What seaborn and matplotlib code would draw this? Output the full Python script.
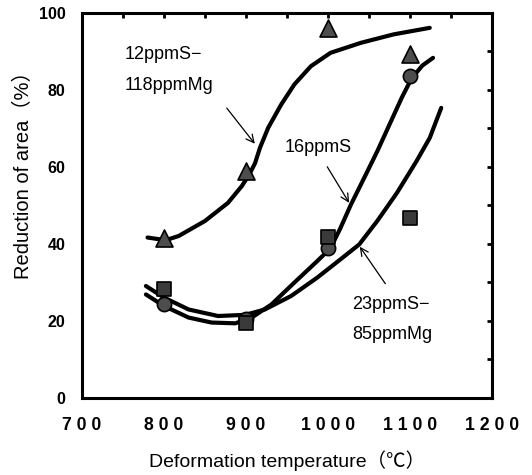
import matplotlib
matplotlib.use("Agg")
import matplotlib.pyplot as plt
import seaborn as sns
import pandas as pd
from matplotlib.ticker import MultipleLocator

# Measured reduction of area at each deformation temperature
temps = [800, 900, 1000, 1100]
ra_12S_118Mg = [41.6, 59.0, 96.1, 89.2]
ra_16S = [24.2, 20.5, 38.8, 83.5]
ra_23S_85Mg = [28.1, 19.5, 41.7, 46.6]

# Hand-fitted trend curves
curve_12S_118Mg_t = [780, 802, 818, 850, 878, 895, 904, 911, 917, 927, 943, 959, 979, 1003, 1040, 1080, 1124]
curve_12S_118Mg_v = [41.6, 40.9, 42.0, 45.9, 50.6, 55.0, 58.0, 60.9, 64.9, 70.1, 76.2, 81.4, 86.1, 89.6, 92.2, 94.4, 96.1]
curve_16S_t = [778, 800, 830, 858, 887, 907, 931, 959, 987, 1003, 1015, 1028, 1045, 1060, 1075, 1090, 1102, 1115, 1128]
curve_16S_v = [26.8, 23.8, 20.8, 19.5, 19.3, 20.8, 24.2, 29.9, 35.5, 38.8, 44.0, 50.2, 57.5, 64.0, 71.0, 78.0, 83.0, 86.3, 88.3]
curve_23S_85Mg_t = [778, 800, 830, 866, 899, 923, 955, 987, 1015, 1038, 1060, 1084, 1108, 1124, 1138]
curve_23S_85Mg_v = [29.0, 26.0, 22.9, 21.2, 21.5, 22.9, 26.4, 31.2, 35.9, 39.8, 45.9, 53.2, 61.5, 67.5, 75.3]

x_ticks = [700, 800, 900, 1000, 1100, 1200]
y_ticks = [0, 20, 40, 60, 80, 100]

sns.set_theme(style="white")
plt.rcParams["font.family"] = ["Liberation Sans", "Noto Sans CJK JP", "DejaVu Sans"]

fig = plt.figure(figsize=(5.32, 4.75), dpi=100)
ax = fig.add_axes([0.154, 0.163, 0.771, 0.81])

curves = [
    (curve_12S_118Mg_t, curve_12S_118Mg_v),
    (curve_16S_t, curve_16S_v),
    (curve_23S_85Mg_t, curve_23S_85Mg_v),
]
for t, v in curves:
    sns.lineplot(x=t, y=v, ax=ax, color="black", lw=3.0, sort=False,
                 estimator=None, solid_capstyle="round", solid_joinstyle="round",
                 zorder=2)

pts = pd.DataFrame({
    "T": temps * 3,
    "RA": ra_12S_118Mg + ra_16S + ra_23S_85Mg,
    "grp": ["a"] * 4 + ["b"] * 4 + ["c"] * 4,
})
sns.scatterplot(data=pts[pts.grp == "b"], x="T", y="RA", ax=ax, marker="o",
                s=105, color="#4d4d4d", edgecolor="black", linewidth=1.2, zorder=3)
sns.scatterplot(data=pts[pts.grp == "c"], x="T", y="RA", ax=ax, marker="s",
                s=105, color="#3a3a3a", edgecolor="black", linewidth=1.2, zorder=4)
sns.scatterplot(data=pts[pts.grp == "a"], x="T", y="RA", ax=ax, marker="^",
                s=150, color="#4d4d4d", edgecolor="black", linewidth=1.2, zorder=4)

ax.set_xlim(700, 1200)
ax.set_ylim(0, 100)
ax.set_xticks(x_ticks)
ax.set_xticklabels([" ".join(str(t)) for t in x_ticks])
ax.set_yticks(y_ticks)
ax.set_yticklabels([str(v) for v in y_ticks])
ax.xaxis.set_minor_locator(MultipleLocator(50))
ax.yaxis.set_minor_locator(MultipleLocator(10))
ax.tick_params(which="both", direction="in", top=True, right=True,
               length=3.5, width=2, color="black")
ax.tick_params(axis="x", labelsize=12.7, pad=14)
ax.tick_params(axis="y", labelsize=11.5, pad=12)
for lbl in ax.get_xticklabels() + ax.get_yticklabels():
    lbl.set_fontweight("bold")
    lbl.set_color("black")
for sp in ax.spines.values():
    sp.set_linewidth(2.2)
    sp.set_color("black")

ax.set_xlabel("Deformation temperature（℃）", fontsize=14, labelpad=12, color="black")
ax.set_ylabel("Reduction of area（%）", fontsize=14.5, color="black")
ax.yaxis.set_label_coords(-0.12, 0.59)

txt = dict(fontsize=13, color="black", va="center", ha="left")
ax.text(751.7, 89.2, "12ppmS−", **txt)
ax.text(751.7, 81.0, "118ppmMg", **txt)
ax.text(947, 64.9, "16ppmS", **txt)
ax.text(1029.6, 24.2, "23ppmS−", **txt)
ax.text(1029.6, 16.5, "85ppmMg", **txt)

arrow = dict(arrowstyle="->", color="black", lw=0.9, mutation_scale=14)
ax.annotate("", xy=(912.8, 65.4), xytext=(874.5, 75.8), arrowprops=arrow)
ax.annotate("", xy=(1027.5, 50.0), xytext=(997.3, 60.6), arrowprops=arrow)
ax.annotate("", xy=(1036.8, 39.8), xytext=(1071.8, 29.0), arrowprops=arrow)

fig.savefig("out.png", dpi=100)
